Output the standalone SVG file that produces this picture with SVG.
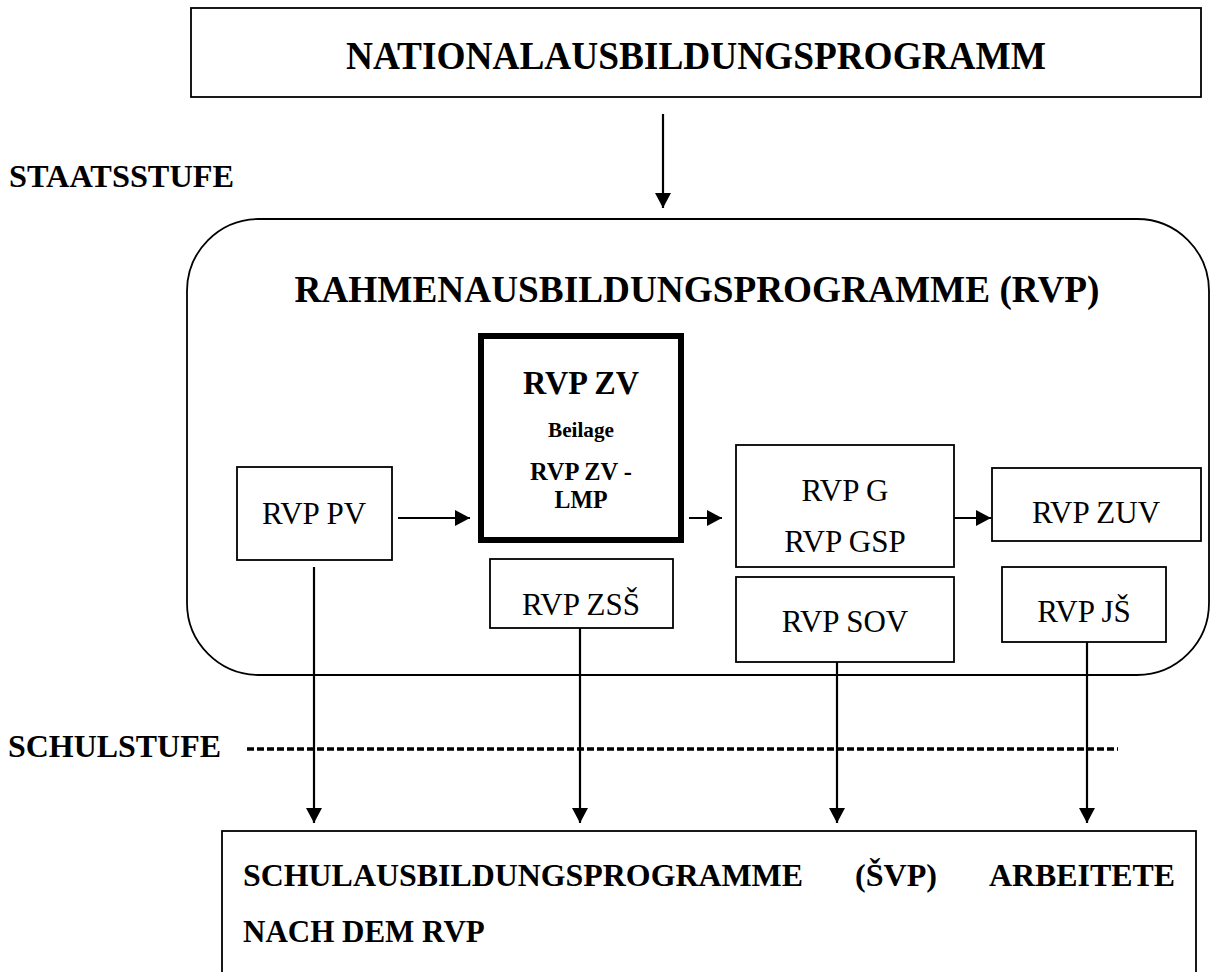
<svg xmlns="http://www.w3.org/2000/svg" width="1211" height="972" viewBox="0 0 1211 972">
  <style>
    text { font-family: "Liberation Serif", "Times New Roman", serif; fill: #000; }
    .b { font-weight: bold; }
    .c { text-anchor: middle; }
    .box { fill: #fff; stroke: #000; stroke-width: 1.8; }
    .con { stroke: #000; stroke-width: 2.2; fill: none; marker-end: url(#ah); }
  </style>
  <defs>
    <marker id="ah" markerUnits="userSpaceOnUse" markerWidth="15" markerHeight="16" refX="15" refY="8" orient="auto">
      <path d="M0,0 L15,8 L0,16 z" fill="#000"/>
    </marker>
  </defs>
  <rect width="1211" height="972" fill="#fff"/>

  <g id="nationalprogramm">
    <rect class="box" x="191" y="8" width="1010" height="89" stroke-width="2"/>
    <text class="b c" x="696" y="69" font-size="39" textLength="700" lengthAdjust="spacingAndGlyphs">NATIONALAUSBILDUNGSPROGRAMM</text>
  </g>

  <g id="staatsstufe">
    <text class="b" x="9" y="187" font-size="31" textLength="225" lengthAdjust="spacingAndGlyphs">STAATSSTUFE</text>
  </g>

  <g id="rvp-container">
    <rect class="box" x="187" y="219" width="1022" height="456" rx="72" ry="72" stroke-width="1.6"/>
    <text class="b c" x="697" y="302" font-size="37" textLength="805" lengthAdjust="spacingAndGlyphs">RAHMENAUSBILDUNGSPROGRAMME (RVP)</text>
  </g>

  <g id="rvp-pv">
    <rect class="box" x="237" y="467" width="155" height="93"/>
    <text class="c" x="314" y="524" font-size="31">RVP PV</text>
  </g>

  <g id="rvp-zv">
    <rect x="481" y="336" width="200" height="204" fill="#fff" stroke="#000" stroke-width="6"/>
    <text class="b c" x="581" y="394" font-size="34" textLength="116" lengthAdjust="spacingAndGlyphs">RVP ZV</text>
    <text class="b c" x="581" y="437" font-size="21" textLength="66" lengthAdjust="spacingAndGlyphs">Beilage</text>
    <text class="b c" x="581" y="480" font-size="25" textLength="102" lengthAdjust="spacingAndGlyphs">RVP ZV -</text>
    <text class="b c" x="581" y="508" font-size="25" textLength="53" lengthAdjust="spacingAndGlyphs">LMP</text>
  </g>

  <g id="rvp-zss">
    <rect class="box" x="490" y="559" width="183" height="69"/>
    <text class="c" x="581" y="615" font-size="31">RVP ZSŠ</text>
  </g>

  <g id="rvp-g">
    <rect class="box" x="736" y="445" width="218" height="122"/>
    <text class="c" x="845" y="501" font-size="31">RVP G</text>
    <text class="c" x="845" y="552" font-size="31">RVP GSP</text>
  </g>

  <g id="rvp-sov">
    <rect class="box" x="736" y="577" width="218" height="85"/>
    <text class="c" x="845" y="632" font-size="31">RVP SOV</text>
  </g>

  <g id="rvp-zuv">
    <rect class="box" x="992" y="468" width="209" height="73"/>
    <text class="c" x="1096" y="523" font-size="31">RVP ZUV</text>
  </g>

  <g id="rvp-js">
    <rect class="box" x="1002" y="567" width="164" height="75"/>
    <text class="c" x="1084" y="622" font-size="31">RVP JŠ</text>
  </g>

  <g id="schulstufe">
    <text class="b" x="8" y="757" font-size="31" textLength="213" lengthAdjust="spacingAndGlyphs">SCHULSTUFE</text>
    <line x1="247" y1="749" x2="1118" y2="749" stroke="#000" stroke-width="3.5" stroke-dasharray="7 3"/>
  </g>

  <g id="svp">
    <rect class="box" x="222" y="831" width="974" height="150" stroke-width="2"/>
    <text class="b" x="243" y="886" font-size="31" textLength="560" lengthAdjust="spacingAndGlyphs">SCHULAUSBILDUNGSPROGRAMME</text>
    <text class="b" x="855" y="886" font-size="31" textLength="82" lengthAdjust="spacingAndGlyphs">(ŠVP)</text>
    <text class="b" x="989" y="886" font-size="31" textLength="186" lengthAdjust="spacingAndGlyphs">ARBEITETE</text>
    <text class="b" x="243" y="942" font-size="31">NACH DEM RVP</text>
  </g>

  <g id="connectors">
    <line class="con" x1="663" y1="114" x2="663" y2="208" stroke-width="2"/>
    <line class="con" x1="398" y1="518" x2="470" y2="518"/>
    <line class="con" x1="689" y1="518" x2="722" y2="518"/>
    <line class="con" x1="954" y1="518" x2="991" y2="518"/>
    <line class="con" x1="314" y1="567" x2="314" y2="823"/>
    <line class="con" x1="580" y1="628" x2="580" y2="823"/>
    <line class="con" x1="837" y1="662" x2="837" y2="823"/>
    <line class="con" x1="1087" y1="642" x2="1087" y2="823"/>
  </g>
</svg>
